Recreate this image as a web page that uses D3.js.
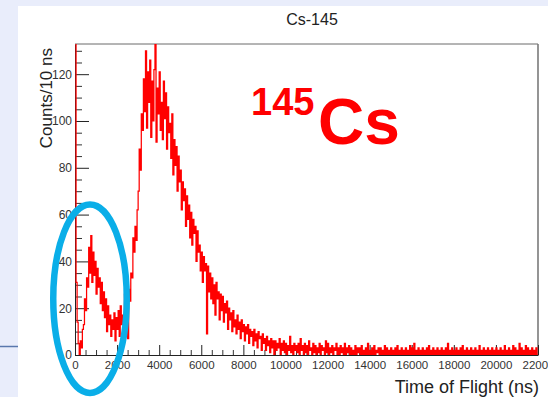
<!DOCTYPE html>
<html>
<head>
<meta charset="utf-8">
<script src="https://cdn.jsdelivr.net/npm/d3@7"></script>
<style>
  html, body { margin: 0; padding: 0; background: #e9edfb; }
  svg { display: block; font-family: "Liberation Sans", Arial, sans-serif; }
</style>
</head>
<body>
<svg id="chart" width="548" height="397"></svg>
<script>
// ---- data ----
const chartTitle = "Cs-145";
const xAxisTitle = "Time of Flight (ns)";
const yAxisTitle = "Counts/10 ns";
const binWidthNs = 50;            // each entry below covers 50 ns of time of flight
const counts = [
  300,31,14,5,0,6,3,11,13,24,
  19,33,29,46,35,51,31,44,34,40,
  26,37,29,33,22,31,19,27,16,24,
  10,21,13,17,8,15,11,18,6,16,
  11,19,8,21,13,17,15,26,12,24,
  7,28,23,35,33,50,44,55,49,62,
  70,88,79,103,96,118,104,130,97,121,
  108,126,93,117,100,122,150,91,114,103,
  121,96,108,92,117,101,112,88,106,95,
  99,84,103,77,92,81,89,70,85,74,
  79,62,74,66,71,55,68,58,64,50,
  61,47,58,52,55,40,53,44,47,36,
  44,31,42,36,39,9,38,27,35,24,
  33,22,30,17,31,24,27,15,26,19,
  25,14,22,18,23,11,20,15,18,10,
  19,12,15,9,17,11,14,7,15,10,
  13,6,12,9,13,5,11,8,10,4,
  11,6,9,3,10,7,8,2,9,5,
  7,2,8,4,6,1,7,3,6,0,
  6,2,5,3,7,0,5,2,6,1,
  5,0,4,2,8,1,4,0,5,2,
  4,1,5,0,7,2,4,0,5,1,
  4,0,6,2,3,0,5,1,4,0,
  3,1,5,0,4,2,3,0,6,1,
  5,0,3,1,4,0,3,2,5,0,
  3,0,4,1,3,0,5,0,3,1,
  4,0,3,0,2,0,4,0,3,1,
  3,0,4,0,2,0,3,0,5,0,
  2,0,3,0,4,0,2,1,3,0,
  3,0,2,0,4,0,3,0,2,0,
  3,0,2,0,3,0,4,0,2,0,
  3,0,2,0,3,0,2,0,4,0,
  3,0,5,0,2,0,3,0,2,0,
  3,0,2,0,3,0,4,0,2,0,
  3,0,2,0,3,0,2,0,3,0,
  2,0,3,0,5,0,2,0,3,0,
  2,0,3,0,2,0,3,0,4,0,
  2,0,3,0,2,0,3,0,2,0,
  3,0,2,0,4,0,2,0,3,0,
  2,0,3,0,2,0,3,0,2,0,
  3,0,2,0,3,0,2,0,4,0,
  2,0,3,0,2,0,4,0,3,0,
  2,0,5,0,3,0,2,0,4,0,
  3,0,2,0,3,0,2,0,3,0
];
const xDomain = [0, 22000];
const yDomain = [0, 132.9];
const xTickValues = [0,2000,4000,6000,8000,10000,12000,14000,16000,18000,20000,22000];
const xMinorStep = 500;
const yTickValues = [0,20,40,60,80,100,120];
const yMinorStep = 5;
const isotopeMass = "145";
const isotopeSymbol = "Cs";

// ---- layout ----
const svg = d3.select("#chart");
const W = 548, H = 397;
const frame = { left: 75, right: 538, top: 44, bottom: 355 };

// slide background + white pad
svg.append("rect").attr("x", 0).attr("y", 0).attr("width", W).attr("height", H).attr("fill", "#e9edfb");
svg.append("rect").attr("x", 18).attr("y", 6).attr("width", W - 18).attr("height", H - 6).attr("fill", "#ffffff");
svg.append("line").attr("x1", 0).attr("x2", 18).attr("y1", 346.5).attr("y2", 346.5)
  .attr("stroke", "#5a78ad").attr("stroke-width", 1.5);

const x = d3.scaleLinear().domain(xDomain).range([frame.left, frame.right]);
const y = d3.scaleLinear().domain(yDomain).range([frame.bottom, frame.top]);

// frame (top / right)
svg.append("line").attr("x1", frame.left).attr("x2", frame.right).attr("y1", frame.top).attr("y2", frame.top)
  .attr("stroke", "#6b6b6b").attr("stroke-width", 1);
svg.append("line").attr("x1", frame.right).attr("x2", frame.right).attr("y1", frame.top).attr("y2", frame.bottom)
  .attr("stroke", "#7a7a7a").attr("stroke-width", 1.6);

// minor ticks
const xMinor = d3.range(xDomain[0], xDomain[1] + 1, xMinorStep).filter(v => !xTickValues.includes(v));
const yMinor = d3.range(0, yDomain[1], yMinorStep).filter(v => !yTickValues.includes(v));

const gxMinor = svg.append("g").attr("transform", `translate(0,${frame.bottom})`)
  .call(d3.axisBottom(x).tickValues(xMinor).tickSize(-5).tickSizeOuter(0).tickFormat(""));
const gyMinor = svg.append("g").attr("transform", `translate(${frame.left},0)`)
  .call(d3.axisLeft(y).tickValues(yMinor).tickSize(-7).tickSizeOuter(0).tickFormat(""));
[gxMinor, gyMinor].forEach(g => { g.select(".domain").remove(); g.selectAll("line").attr("stroke", "#333"); });

const gx = svg.append("g").attr("transform", `translate(0,${frame.bottom})`)
  .call(d3.axisBottom(x).tickValues(xTickValues).tickSize(-10).tickSizeOuter(0).tickPadding(6).tickFormat(d3.format("d")));
const gy = svg.append("g").attr("transform", `translate(${frame.left},0)`)
  .call(d3.axisLeft(y).tickValues(yTickValues).tickSize(-14).tickSizeOuter(0).tickPadding(3).tickFormat(d3.format("d")));
[gx, gy].forEach(g => {
  g.select(".domain").attr("stroke", "#222");
  g.selectAll(".tick line").attr("stroke", "#222");
  g.selectAll("text").attr("fill", "#333").style("font-size", "11.5px").style("font-family", "'Liberation Sans', Arial, sans-serif");
});
gy.selectAll("text").style("font-size", "12px");

// histogram
svg.append("clipPath").attr("id", "clip").append("rect")
  .attr("x", frame.left).attr("y", frame.top).attr("width", frame.right - frame.left).attr("height", frame.bottom - frame.top);
const pts = counts.map((c, i) => [i * binWidthNs, c]);
pts.push([counts.length * binWidthNs, counts[counts.length - 1]]);
const line = d3.line().x(d => x(d[0])).y(d => y(d[1])).curve(d3.curveStepAfter);
svg.append("path").datum(pts).attr("clip-path", "url(#clip)")
  .attr("d", line).attr("fill", "none").attr("stroke", "#ff0000").attr("stroke-width", 1.25);

// titles
svg.append("text").attr("x", 312).attr("y", 25).attr("text-anchor", "middle")
  .style("font-size", "16px").attr("fill", "#222").text(chartTitle);
svg.append("text").attr("transform", `translate(52,${frame.top + 4}) rotate(-90)`).attr("text-anchor", "end")
  .style("font-size", "17px").attr("fill", "#222").text(yAxisTitle);
svg.append("text").attr("x", 539).attr("y", 392.5).attr("text-anchor", "end")
  .style("font-size", "18px").attr("fill", "#222").text(xAxisTitle);

// isotope label
const iso = svg.append("text").attr("x", 251).attr("y", 144).attr("fill", "#ff0000").style("font-weight", "bold");
iso.append("tspan").attr("y", 115).style("font-size", "38px").text(isotopeMass);
iso.append("tspan").attr("x", 318).attr("y", 144).style("font-size", "64px").text(isotopeSymbol);

// highlight ellipse
svg.append("ellipse").attr("cx", 90).attr("cy", 298.75).attr("rx", 36.75).attr("ry", 94.25)
  .attr("fill", "none").attr("stroke", "#0aaee8").attr("stroke-width", 6.5);
</script>
</body>
</html>
